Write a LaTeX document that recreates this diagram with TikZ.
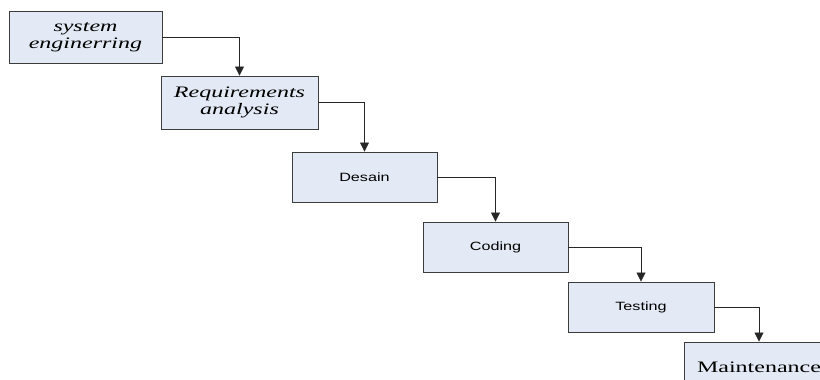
\documentclass[tikz,border=0pt]{standalone}
\usepackage{fontspec}
\usepackage{tikz}
\usetikzlibrary{arrows.meta}
\newfontfamily\stageserif[FakeStretch=1.5]{Liberation Serif}
\newfontfamily\stagesans[FakeStretch=1.35]{Liberation Sans}
\definecolor{stagefill}{RGB}{228,234,245}
\definecolor{stageline}{RGB}{60,60,60}

\begin{document}
\begin{tikzpicture}[x=1pt,y=-1pt,
  stage/.style={draw=stageline,line width=0.9pt,fill=stagefill,minimum height=50pt,inner sep=0pt,align=center},
  link/.style={draw=black!85,line width=0.8pt,-{Triangle[length=9pt,width=9pt]}}]
\useasboundingbox (0,0) rectangle (820,380);
\clip (0,0) rectangle (820,380);
\node (sys) [stage,minimum width=153pt,minimum height=52pt,font=\stageserif\itshape\fontsize{16}{17}\selectfont] at (85.5,37) {system\\enginerring};
\node (req) [stage,minimum width=157pt,minimum height=53pt,font=\stageserif\itshape\fontsize{16}{17}\selectfont] at (239.5,102.5) {Requirements\\analysis};
\node (des) [stage,minimum width=145pt,font=\stagesans\fontsize{12}{13}\selectfont] at (364.5,177) {Desain};
\node (cod) [stage,minimum width=145pt,font=\stagesans\fontsize{12}{13}\selectfont] at (495.5,247) {Coding};
\node (tes) [stage,minimum width=146pt,font=\stagesans\fontsize{12}{13}\selectfont] at (641,307) {Testing};
\node (mai) [stage,minimum width=150pt,font=\stageserif\fontsize{16}{17}\selectfont] at (759,367) {Maintenance};
% the steps of the waterfall
\draw[link] (sys.east) -| (req.north);
\draw[link] (req.east) -| (des.north);
\draw[link] (des.east) -| (cod.north);
\draw[link] (cod.east) -| (tes.north);
\draw[link] (tes.east) -| (mai.north);
\end{tikzpicture}
\end{document}
